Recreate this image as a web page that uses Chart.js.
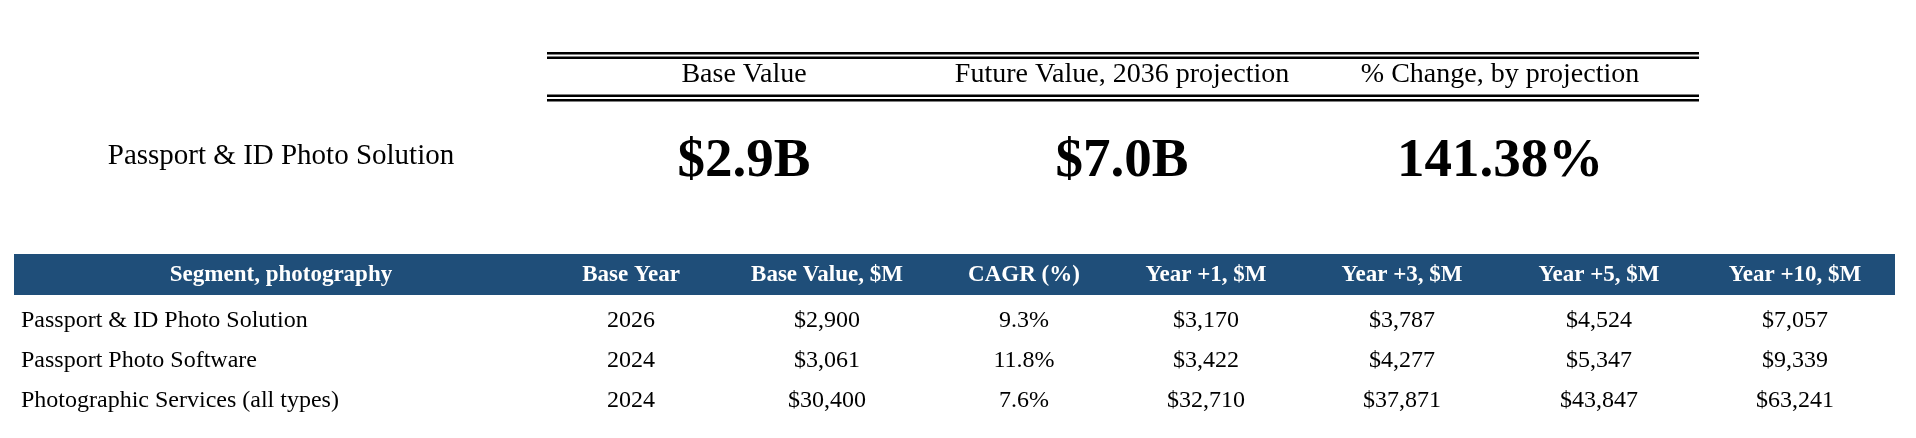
<!DOCTYPE html>
<html>
<head>
<meta charset="utf-8">
<script src="https://cdn.jsdelivr.net/npm/chart.js@4.4.1/dist/chart.umd.min.js"></script>
<style>
  html, body { margin: 0; padding: 0; background: #fff; }
  #wrap { width: 1916px; height: 438px; }
</style>
</head>
<body>
<div id="wrap"><canvas id="tableChart" width="1916" height="438"></canvas></div>
<script>
const summaryLabel = "Passport & ID Photo Solution";
const summaryHeaders = ["Base Value", "Future Value, 2036 projection", "% Change, by projection"];
const summaryValues = ["$2.9B", "$7.0B", "141.38%"];

const columns = ["Segment, photography", "Base Year", "Base Value, $M", "CAGR (%)", "Year +1, $M", "Year +3, $M", "Year +5, $M", "Year +10, $M"];
const segments = ["Passport & ID Photo Solution", "Passport Photo Software", "Photographic Services (all types)"];
const baseYears = ["2026", "2024", "2024"];
const baseValues = ["$2,900", "$3,061", "$30,400"];
const cagr = ["9.3%", "11.8%", "7.6%"];
const year1 = ["$3,170", "$3,422", "$32,710"];
const year3 = ["$3,787", "$4,277", "$37,871"];
const year5 = ["$4,524", "$5,347", "$43,847"];
const year10 = ["$7,057", "$9,339", "$63,241"];

const SERIF = "'Liberation Serif', 'Times New Roman', serif";
const colX = [281, 631, 827, 1024, 1206, 1402, 1599, 1795];
const summaryX = [744, 1122, 1500];

const tablePlugin = {
  id: "tablePlugin",
  afterDraw(chart) {
    const ctx = chart.ctx;
    const xs = chart.scales.x, ys = chart.scales.y;
    const X = v => xs.getPixelForValue(v);
    const Y = v => ys.getPixelForValue(v);
    ctx.save();
    ctx.textBaseline = "middle";

    // double rules
    ctx.fillStyle = "#000";
    [52, 56.5, 94.5, 99].forEach(y => ctx.fillRect(X(547), Y(y), X(1699) - X(547), 2.5));

    ctx.textAlign = "center";
    ctx.font = "28px " + SERIF;
    summaryHeaders.forEach((h, i) => ctx.fillText(h, X(summaryX[i]), Y(75)));
    ctx.font = "bold 55px " + SERIF;
    summaryValues.forEach((v, i) => ctx.fillText(v, X(summaryX[i]), Y(162)));
    ctx.font = "29px " + SERIF;
    ctx.fillText(summaryLabel, X(281), Y(156));

    // header band
    ctx.fillStyle = "#1f4e79";
    ctx.fillRect(X(14), Y(254), X(1895) - X(14), Y(295) - Y(254));
    ctx.fillStyle = "#fff";
    ctx.font = "bold 23px " + SERIF;
    columns.forEach((c, i) => ctx.fillText(c, X(colX[i]), Y(275)));

    // rows
    const rowY = [321, 361, 401];
    const cols = [baseYears, baseValues, cagr, year1, year3, year5, year10];
    ctx.fillStyle = "#000";
    ctx.font = "24px " + SERIF;
    segments.forEach((s, r) => {
      ctx.textAlign = "left";
      ctx.fillText(s, X(21), Y(rowY[r]));
      ctx.textAlign = "center";
      cols.forEach((arr, c) => ctx.fillText(arr[r], X(colX[c + 1]), Y(rowY[r])));
    });
    ctx.restore();
  }
};

new Chart(document.getElementById("tableChart"), {
  type: "scatter",
  data: { datasets: [{ data: [] }] },
  options: {
    responsive: false,
    animation: false,
    layout: { padding: 0 },
    plugins: { legend: { display: false }, tooltip: { enabled: false } },
    scales: {
      x: { type: "linear", min: 0, max: 1916, display: false },
      y: { type: "linear", min: 0, max: 438, reverse: true, display: false }
    }
  },
  plugins: [tablePlugin]
});
</script>
</body>
</html>
